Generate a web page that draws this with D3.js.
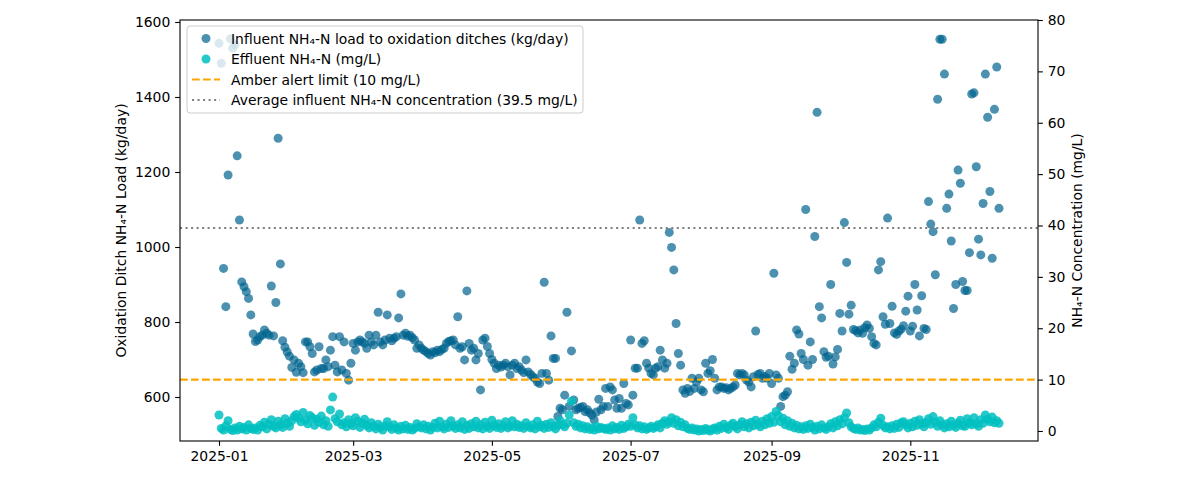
<!DOCTYPE html>
<html><head><meta charset="utf-8">
<script src="https://cdn.jsdelivr.net/npm/d3@7"></script>
<style>body{margin:0;background:#fff;} text{font-family:"DejaVu Sans",sans-serif;}</style>
</head><body><svg id="c" width="1200" height="480"></svg>
<script>
const startDate = "2025-01-01";
const influentLoad = [
1543,1490,943,841,1192,1555,1530,1539,1243,1072,
907,894,881,863,819,768,748,752,761,
765,779,770,765,896,763,852,1290,955,750,
733,720,709,679,699,666,690,681,665,
747,747,734,716,667,672,734,676,676,699,
681,725,761,685,667,761,672,747,663,
645,690,743,725,747,752,747,743,730,765,
747,739,765,826,747,739,752,819,757,
750,757,761,811,875,765,770,762,765,758,
752,730,739,730,725,721,716,712,721,
718,725,721,727,730,743,748,750,752,739,
814,730,734,699,883,743,725,730,699,
716,619,752,757,735,716,700,690,676,685,
680,685,690,681,659,685,690,676,681,
672,665,699,667,660,654,650,640,636,663,
906,663,645,763,703,703,548,570,566,
605,826,575,723,592,566,570,572,575,561,
566,558,552,539,560,594,566,575,623,
575,627,619,592,570,596,570,636,583,579,
752,605,677,677,1072,743,750,690,677,663,
659,677,681,725,699,677,690,1039,999,
939,796,716,685,619,610,623,615,650,623,
640,650,619,614,690,663,670,700,650,
619,627,627,623,625,619,623,627,632,
663,659,663,659,645,640,627,654,776,660,
663,650,655,650,663,636,930,659,650,
575,601,605,614,709,674,690,779,768,716,
700,1100,685,747,700,1028,1359,841,811,721,
706,709,900,688,707,727,823,776,1065,959,
821,845,780,777,771,779,770,785,792,
783,761,743,739,939,961,814,794,1077,
796,842,771,767,776,781,790,829,869,
776,789,900,832,763,870,783,780,1121,1061,
1041,926,1394,1554,1554,1461,1103,1141,1016,836,
900,1205,1170,908,884,884,985,1408,1411,
1214,1021,979,1116,1461,1346,1148,970,1367,1480,
1103];
const effluentNH4 = [
3.1,0.5,0.2,1.0,2.0,0.3,0.1,0.6,0.2,0.9,
0.4,0.7,0.2,1.2,0.5,0.3,0.6,0.2,1.1,
0.8,1.7,0.4,1.3,2.2,0.9,0.6,1.9,1.2,0.7,
2.4,1.5,0.9,2.0,2.8,3.2,2.5,1.8,3.6,
2.1,1.4,3.0,2.6,1.1,2.3,1.7,2.9,1.2,2.0,
0.9,4.1,6.6,2.4,1.8,3.3,1.2,1.6,0.8,
2.2,1.4,1.0,2.6,1.9,0.7,1.5,2.3,1.1,0.6,
1.6,0.9,0.4,1.3,0.7,0.2,1.0,1.8,0.8,
0.3,1.2,0.6,0.2,0.9,0.4,1.1,0.3,0.7,0.2,
0.5,1.4,0.8,0.6,1.2,0.4,0.9,0.2,0.7,
1.5,0.6,1.9,0.8,0.4,1.3,0.7,2.0,1.0,0.5,
1.2,0.6,1.8,0.3,1.1,0.5,1.4,0.8,1.9,
0.6,1.2,0.4,1.7,0.9,0.5,2.1,1.1,0.7,1.4,
0.5,1.0,1.8,0.6,0.9,2.0,0.8,1.3,0.7,
1.0,0.5,1.6,0.9,0.6,1.2,0.4,1.9,0.8,1.1,
0.5,1.3,0.7,1.6,0.9,0.4,1.1,2.0,1.2,
0.8,1.5,3.1,5.8,1.6,0.9,1.3,0.6,1.0,0.4,
0.8,0.3,0.6,0.2,0.9,0.4,0.7,0.5,0.3,
0.6,0.2,1.0,0.4,0.7,0.3,1.1,0.5,0.8,1.3,
0.9,2.6,1.2,0.6,1.0,0.4,0.8,0.3,0.6,0.9,
0.5,0.8,1.2,0.6,1.5,2.0,1.3,1.8,2.6,
1.5,2.2,1.0,1.7,0.8,1.2,0.5,0.3,0.6,0.2,
0.4,0.0,0.3,0.1,0.5,0.2,0.0,0.4,0.6,
0.2,0.9,0.5,1.3,0.7,0.3,1.1,1.5,0.9,
0.4,1.2,1.8,0.8,1.4,0.6,1.7,1.0,2.1,1.3,
0.8,1.9,1.2,2.4,1.5,2.8,1.7,3.8,3.0,
1.8,2.5,1.2,2.0,0.9,1.5,0.6,1.1,0.4,0.8,
0.3,1.0,0.5,1.3,0.7,0.2,0.9,0.4,1.2,0.6,
0.3,0.8,1.4,0.6,1.8,1.0,2.2,1.4,2.6,3.5,
1.6,0.8,0.5,0.3,0.6,0.2,0.3,0.1,0.4,
0.2,0.6,1.2,0.8,1.7,2.5,1.1,0.6,0.8,
0.4,1.0,0.5,1.3,0.7,1.6,1.8,1.2,0.6,
1.5,0.8,1.9,1.1,2.2,1.4,0.8,1.6,2.4,1.3,
2.8,1.7,0.9,2.0,1.2,0.6,1.4,0.8,1.9,1.1,
0.7,1.5,2.1,1.0,0.9,2.4,1.6,1.2,2.6,
1.4,0.9,2.2,1.5,3.1,2.3,1.8,2.7,1.6,2.0,
1.5];
const amberLimit = 10;
const avgInfluentConc = 39.5;
const leftTicks = [600, 800, 1000, 1200, 1400, 1600];
const rightTicks = [0, 10, 20, 30, 40, 50, 60, 70, 80];
const xTickLabels = ["2025-01", "2025-03", "2025-05", "2025-07", "2025-09", "2025-11"];
const legendLabels = [
  "Influent NH\u2084-N load to oxidation ditches (kg/day)",
  "Effluent NH\u2084-N (mg/L)",
  "Amber alert limit (10 mg/L)",
  "Average influent NH\u2084-N concentration (39.5 mg/L)"
];
const leftLabel = "Oxidation Ditch NH\u2084-N Load (kg/day)";
const rightLabel = "NH\u2084-N Concentration (mg/L)";

const m = {l: 180, r: 1038, t: 20, b: 441};
const svg = d3.select("#c");
const parse = d3.timeParse("%Y-%m-%d");
const t0 = parse(startDate);
const dates = influentLoad.map((_, i) => d3.timeDay.offset(t0, i));
const tEnd = dates[dates.length - 1];
const span = (tEnd - t0) * 0.05;
const x = d3.scaleTime().domain([new Date(+t0 - span), new Date(+tEnd + span)]).range([m.l, m.r]);
const yL = d3.scaleLinear().domain([482.7, 1605.3]).range([m.b, m.t]);
const yR = d3.scaleLinear().domain([-1.95, 80]).range([m.b, m.t]);

const FS = "13.9px";
const inflColor = "#00648f", effColor = "#00c0c0";
const LW = 2.08, dashA = "7.7,3.3", dotA = "2.08,3.44";

svg.append("clipPath").attr("id", "clipPlot").append("rect")
  .attr("x", m.l).attr("y", m.t).attr("width", m.r - m.l).attr("height", m.b - m.t);
const plot = svg.append("g").attr("clip-path", "url(#clipPlot)");

plot.append("g").selectAll("circle").data(influentLoad).join("circle")
  .attr("cx", (d, i) => x(dates[i])).attr("cy", d => yL(d)).attr("r", 4.5)
  .attr("fill", inflColor).attr("fill-opacity", 0.7);
plot.append("g").selectAll("circle").data(effluentNH4).join("circle")
  .attr("cx", (d, i) => x(dates[i])).attr("cy", d => yR(d)).attr("r", 4.5)
  .attr("fill", effColor).attr("fill-opacity", 0.85);

plot.append("line").attr("x1", m.l).attr("x2", m.r)
  .attr("y1", yR(amberLimit)).attr("y2", yR(amberLimit))
  .attr("stroke", "#ffa500").attr("stroke-width", LW).attr("stroke-dasharray", dashA);
plot.append("line").attr("x1", m.l).attr("x2", m.r)
  .attr("y1", yR(avgInfluentConc)).attr("y2", yR(avgInfluentConc))
  .attr("stroke", "#808080").attr("stroke-width", LW).attr("stroke-dasharray", dotA);

const TS = 4.86;
const xAxis = d3.axisBottom(x).tickValues(xTickLabels.map(s => parse(s + "-01")))
  .tickFormat(d3.timeFormat("%Y-%m")).tickSizeInner(TS).tickSizeOuter(0).tickPadding(TS);
const gx = svg.append("g").attr("transform", `translate(0,${m.b})`).call(xAxis);
const gl = svg.append("g").attr("transform", `translate(${m.l},0)`)
  .call(d3.axisLeft(yL).tickValues(leftTicks).tickFormat(d3.format("d"))
    .tickSizeInner(TS).tickSizeOuter(0).tickPadding(TS));
const gr = svg.append("g").attr("transform", `translate(${m.r},0)`)
  .call(d3.axisRight(yR).tickValues(rightTicks).tickFormat(d3.format("d"))
    .tickSizeInner(TS).tickSizeOuter(0).tickPadding(TS));
[gx, gl, gr].forEach(g => {
  g.select(".domain").remove();
  g.selectAll(".tick line").attr("stroke", "#000").attr("stroke-width", 1.1);
  g.selectAll(".tick text").attr("font-size", FS).attr("fill", "#000")
   .attr("font-family", "DejaVu Sans");
});
svg.append("rect").attr("x", m.l).attr("y", m.t).attr("width", m.r - m.l).attr("height", m.b - m.t)
  .attr("fill", "none").attr("stroke", "#000").attr("stroke-width", 1.1);

svg.append("text").attr("transform", `translate(121,${(m.t + m.b) / 2}) rotate(-90)`)
  .attr("text-anchor", "middle").attr("dominant-baseline", "central")
  .attr("font-size", FS).text(leftLabel);
svg.append("text").attr("transform", `translate(1077,${(m.t + m.b) / 2}) rotate(-90)`)
  .attr("text-anchor", "middle").attr("dominant-baseline", "central")
  .attr("font-size", FS).text(rightLabel);

const lg = svg.append("g");
lg.append("rect").attr("x", 187).attr("y", 26).attr("width", 396).attr("height", 87)
  .attr("rx", 3).attr("fill", "#fff").attr("fill-opacity", 0.8)
  .attr("stroke", "#cccccc").attr("stroke-width", 1);
const rowY = [38.5, 59, 79.5, 100];
lg.append("circle").attr("cx", 206).attr("cy", rowY[0]).attr("r", 4.5)
  .attr("fill", inflColor).attr("fill-opacity", 0.7);
lg.append("circle").attr("cx", 206).attr("cy", rowY[1]).attr("r", 4.5)
  .attr("fill", effColor).attr("fill-opacity", 0.85);
lg.append("line").attr("x1", 192).attr("x2", 220).attr("y1", rowY[2]).attr("y2", rowY[2])
  .attr("stroke", "#ffa500").attr("stroke-width", LW).attr("stroke-dasharray", dashA);
lg.append("line").attr("x1", 192).attr("x2", 220).attr("y1", rowY[3]).attr("y2", rowY[3])
  .attr("stroke", "#808080").attr("stroke-width", LW).attr("stroke-dasharray", dotA);
legendLabels.forEach((s, i) => {
  lg.append("text").attr("x", 231).attr("y", rowY[i]).attr("dominant-baseline", "central")
    .attr("font-size", FS).text(s);
});
</script></body></html>
